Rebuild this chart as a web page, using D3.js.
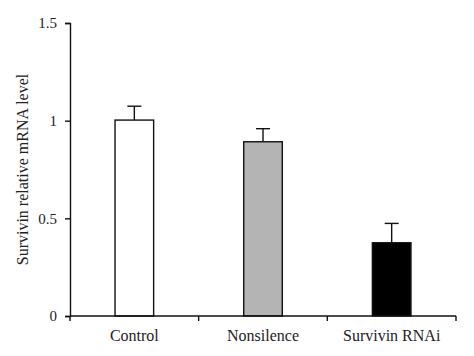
<!DOCTYPE html>
<html><head><meta charset="utf-8">
<script src="https://cdn.jsdelivr.net/npm/d3@7"></script>
<style>body{margin:0;background:#fff}svg{display:block}text{font-family:"Liberation Serif","DejaVu Serif",serif;fill:#222}</style>
</head><body>
<svg id="c" width="474" height="356"></svg>
<script>
const categories = ["Control", "Nonsilence", "Survivin RNAi"];
const values = [1.003, 0.892, 0.375];
const errors = [0.071, 0.067, 0.099];
const fills = ["#ffffff", "#b4b4b4", "#000000"];
const yTicks = [0, 0.5, 1, 1.5];
const yTickLabels = ["0", "0.5", "1", "1.5"];
const yTitle = "Survivin relative mRNA level";

const svg = d3.select("#c");
const m = {l:70, r:18, t:23, b:40};
const W = 474, H = 356;
const x = d3.scaleBand().domain(categories).range([m.l, W - m.r]).paddingInner(0).paddingOuter(0);
const y = d3.scaleLinear().domain([0, 1.5]).range([H - m.b, m.t]);
const bw = x.bandwidth() * 0.30;

// bars
svg.selectAll("rect.bar").data(categories).enter().append("rect")
  .attr("x", d => x(d) + x.bandwidth()/2 - bw/2)
  .attr("y", (d,i) => y(values[i]))
  .attr("width", bw)
  .attr("height", (d,i) => y(0) - y(values[i]))
  .attr("fill", (d,i) => fills[i])
  .attr("stroke", "#111").attr("stroke-width", 1.4);

// error bars
const cap = 7;
categories.forEach((d,i) => {
  const cx = x(d) + x.bandwidth()/2;
  svg.append("line").attr("x1", cx).attr("x2", cx).attr("y1", y(values[i])).attr("y2", y(values[i]+errors[i]))
    .attr("stroke", "#111").attr("stroke-width", 1.4);
  svg.append("line").attr("x1", cx-cap).attr("x2", cx+cap).attr("y1", y(values[i]+errors[i])).attr("y2", y(values[i]+errors[i]))
    .attr("stroke", "#111").attr("stroke-width", 1.4);
});

// y axis
const ya = svg.append("g").attr("transform", `translate(${m.l},0)`)
  .call(d3.axisLeft(y).tickValues(yTicks).tickFormat((d,i)=>yTickLabels[i]).tickSizeOuter(0).tickSize(5).tickPadding(8));
ya.select(".domain").attr("stroke", "#111").attr("stroke-width", 1.4);
ya.selectAll(".tick line").attr("stroke", "#111").attr("stroke-width", 1.4);
ya.selectAll(".tick text").style("font-size", "15px").attr("fill", "#222");

// x axis with ticks at band boundaries
const xa = svg.append("g").attr("transform", `translate(0,${y(0)})`);
xa.append("line").attr("x1", m.l).attr("x2", W - m.r).attr("stroke", "#111").attr("stroke-width", 1.4);
const bounds = categories.map(d => x(d)).concat([x(categories[categories.length-1]) + x.bandwidth()]);
xa.selectAll("line.tk").data(bounds).enter().append("line")
  .attr("x1", d => d).attr("x2", d => d).attr("y1", 0).attr("y2", 5)
  .attr("stroke", "#111").attr("stroke-width", 1.4);
xa.selectAll("text").data(categories).enter().append("text")
  .attr("x", d => x(d) + x.bandwidth()/2).attr("y", 25)
  .attr("text-anchor", "middle").style("font-size", "16px").text(d => d);

// y title
svg.append("text").attr("transform", `translate(28,${(y(0)+y(1.5))/2}) rotate(-90)`)
  .attr("text-anchor", "middle").style("font-size", "16px").text(yTitle);
</script>
</body></html>
